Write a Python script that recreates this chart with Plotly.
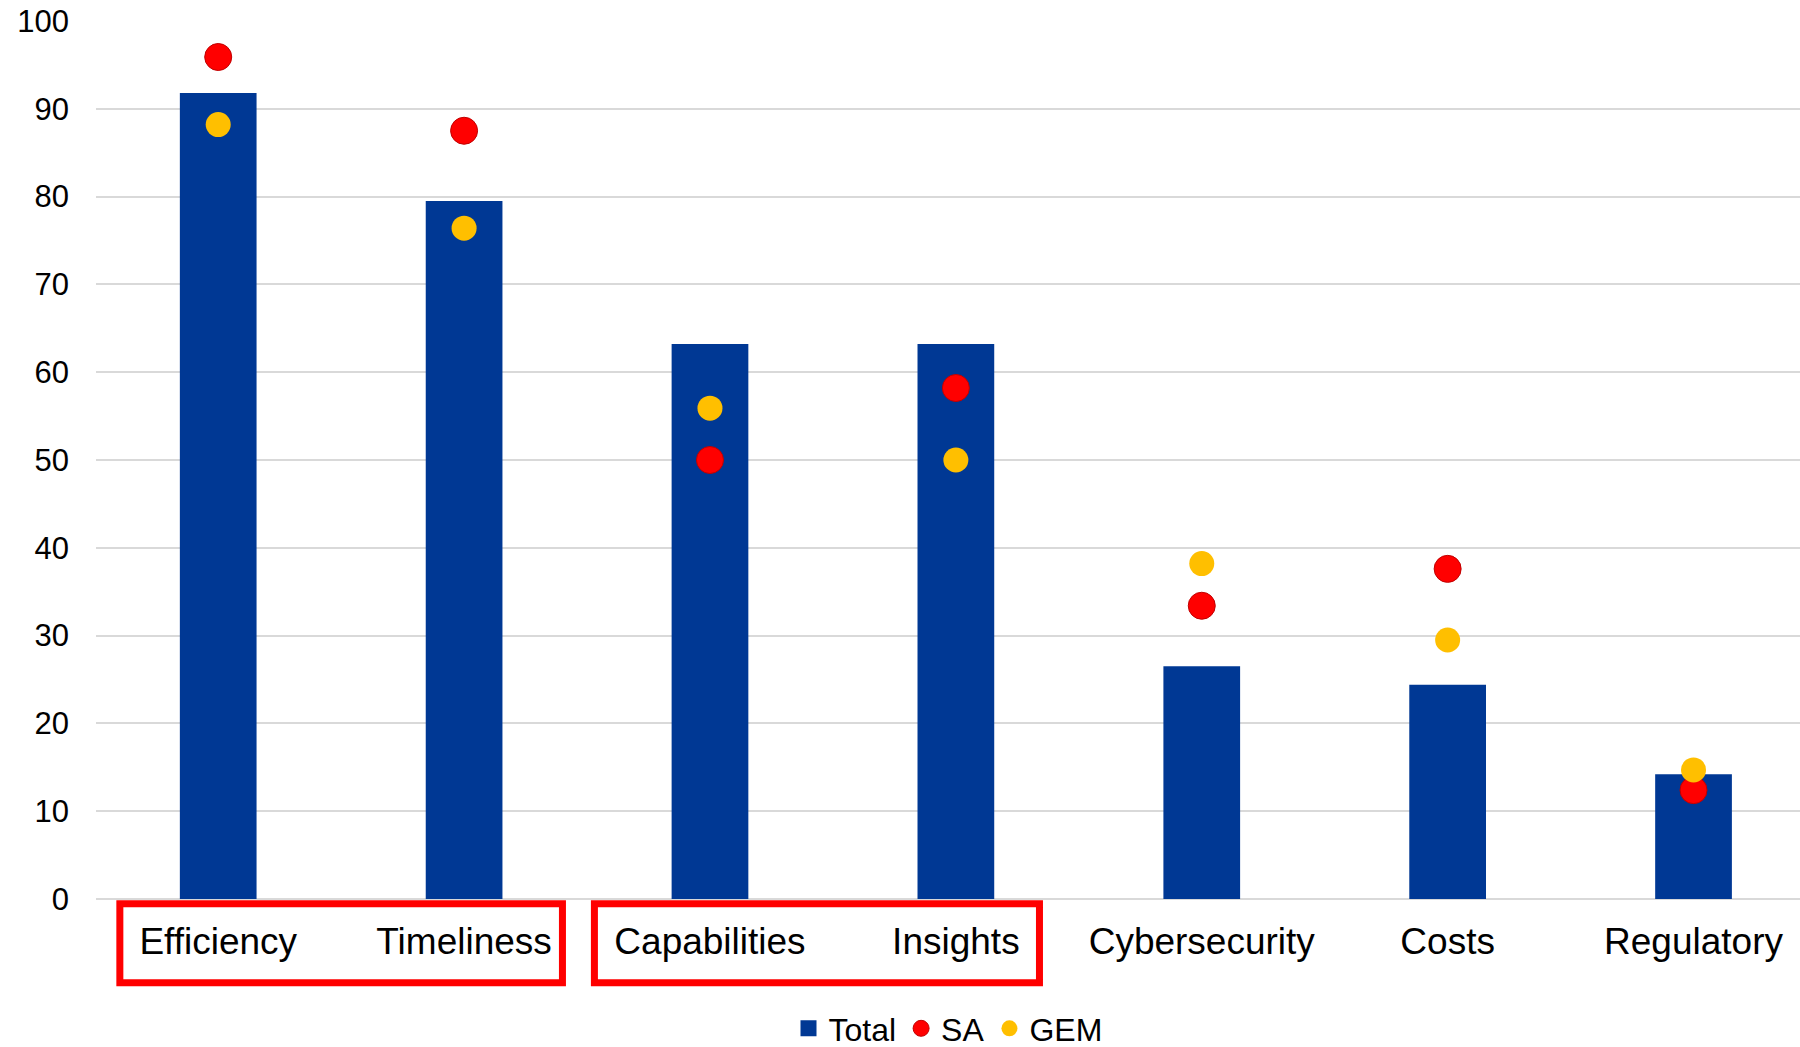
import plotly.graph_objects as go

# Survey results by category (percent of respondents)
categories = ["Efficiency", "Timeliness", "Capabilities", "Insights",
              "Cybersecurity", "Costs", "Regulatory"]
total = [91.8, 79.5, 63.2, 63.2, 26.5, 24.4, 14.2]
sa = [95.9, 87.5, 50.0, 58.2, 33.4, 37.6, 12.4]
gem = [88.2, 76.4, 55.9, 50.0, 38.2, 29.5, 14.7]

# Category groups framed below the axis (in category units)
groups = [(-0.40, 1.40), (1.53, 3.34)]

BLUE = "#003894"
RED = "#FF0000"
YELLOW = "#FFBF00"
FONT = "Liberation Sans, Arial, sans-serif"

X_RANGE = [-0.497, 6.433]

fig = go.Figure()
fig.add_trace(go.Bar(x=categories, y=total, name="Total", showlegend=False,
                     marker=dict(color=BLUE, line=dict(width=0))))
# legend entry for the bars, shown as a square swatch
fig.add_trace(go.Scatter(x=[None], y=[None], name="Total", mode="markers",
                         marker=dict(color=BLUE, symbol="square", size=16)))
fig.add_trace(go.Scatter(x=categories, y=sa, name="SA", mode="markers",
                         marker=dict(color=RED, size=27,
                                     line=dict(color="#C00000", width=1))))
fig.add_trace(go.Scatter(x=categories, y=gem, name="GEM", mode="markers",
                         marker=dict(color=YELLOW, size=25,
                                     line=dict(color=YELLOW, width=0))))

span = X_RANGE[1] - X_RANGE[0]
for lo, hi in groups:
    fig.add_shape(type="rect", xref="paper", yref="paper",
                  x0=(lo - X_RANGE[0]) / span, x1=(hi - X_RANGE[0]) / span,
                  y0=-0.0955, y1=-0.0055,
                  line=dict(color=RED, width=7), fillcolor="rgba(0,0,0,0)")

fig.update_layout(
    width=1800, height=1047,
    margin=dict(l=96, r=0, t=21, b=148, autoexpand=False),
    paper_bgcolor="white", plot_bgcolor="white",
    font=dict(family=FONT, color="black"),
    bargap=0.688,
    showlegend=True,
    legend=dict(orientation="h", x=0.5, xanchor="center", y=-0.1475,
                yanchor="middle", font=dict(size=32), itemwidth=30,
                traceorder="normal", itemsizing="trace"),
    xaxis=dict(type="category", range=X_RANGE, showgrid=False,
               showline=False, ticks="", tickfont=dict(size=37),
               ticklabelstandoff=17),
    yaxis=dict(range=[0, 100], dtick=10, showgrid=True, gridcolor="#D9D9D9",
               gridwidth=2, zeroline=True, zerolinecolor="#D9D9D9",
               zerolinewidth=2, showline=False, ticks="",
               tickfont=dict(size=31), ticklabelstandoff=26),
)

fig.write_html("out.html")
